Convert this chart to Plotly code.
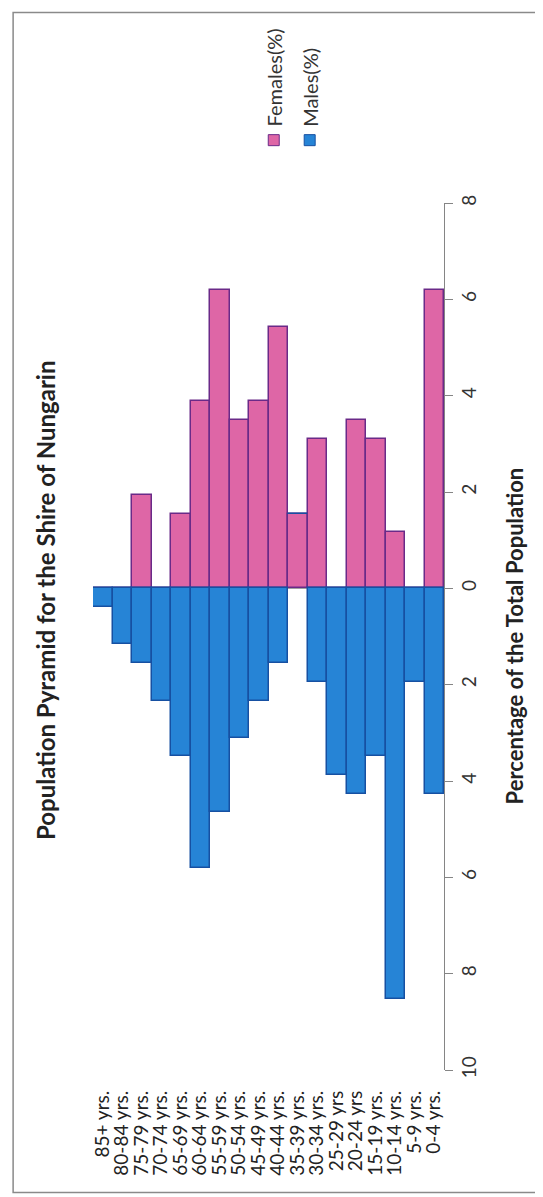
import plotly.graph_objects as go

age_groups = ["85+ yrs.", "80-84 yrs.", "75-79 yrs.", "70-74 yrs.", "65-69 yrs.",
              "60-64 yrs.", "55-59 yrs.", "50-54 yrs.", "45-49 yrs.", "40-44 yrs.",
              "35-39 yrs.", "30-34 yrs.", "25-29 yrs", "20-24 yrs", "15-19 yrs.",
              "10-14 yrs.", "5-9 yrs.", "0-4 yrs."]
females_pct = [0, 0, 1.94, 0, 1.55, 3.88, 6.20, 3.49, 3.88, 5.43,
               1.55, 3.10, 0, 3.49, 3.10, 1.16, 0, 6.20]
males_pct = [0.39, 1.16, 1.55, 2.33, 3.49, 5.81, 4.65, 3.10, 2.33, 1.55,
             0, 1.94, 3.88, 4.26, 3.49, 8.53, 1.94, 4.26]
tick_vals = [-10, -8, -6, -4, -2, 0, 2, 4, 6, 8]
tick_text = ["10", "8", "6", "4", "2", "0", "2", "4", "6", "8"]

W, H = 543, 1197
L, R, T, B = 85, 436.5, 195.3, 1061.7


def px2x(px):
    return (px - L) / (R - L)


def px2y(py):
    return (B - py) / (B - T)


FEM = "#DE66A6"
FEM_LINE = "#6A2A88"
MAL = "#2684D6"
MAL_LINE = "#1650A2"
FONT = "Lato"

fig = go.Figure()
fig.add_trace(go.Bar(x=age_groups, y=females_pct, name="Females(%)",
                     marker=dict(color=FEM, line=dict(color=FEM_LINE, width=1.5)),
                     showlegend=False))
fig.add_trace(go.Bar(x=age_groups, y=[-v for v in males_pct], name="Males(%)",
                     marker=dict(color=MAL, line=dict(color=MAL_LINE, width=1.5)),
                     showlegend=False))

fig.update_layout(
    width=W, height=H,
    margin=dict(l=L, r=W - R, t=T, b=H - B),
    paper_bgcolor="white", plot_bgcolor="white",
    barmode="relative", bargap=0,
    font=dict(family=FONT, color="#222222"),
    xaxis=dict(type="category", range=[-0.5, len(age_groups) - 0.5],
               tickmode="array", tickvals=age_groups, ticktext=age_groups,
               showgrid=False, showline=False, zeroline=False,
               ticks="", tickangle=-90, ticklabelstandoff=16,
               tickfont=dict(size=19, family=FONT, color="#222222")),
    yaxis=dict(range=[-10, 8], side="right", tickvals=tick_vals, ticktext=tick_text,
               showgrid=False, showline=True, linecolor="#858585", linewidth=1.3,
               ticks="outside", ticklen=8, tickcolor="#858585", tickwidth=1.2,
               zeroline=True, zerolinecolor="#A0A0A0", zerolinewidth=2,
               tickangle=-90, ticklabelstandoff=0,
               tickfont=dict(size=19, family=FONT, color="#333333")),
)

annotations = [
    dict(text="<b>Population Pyramid for the Shire of Nungarin</b>", textangle=-90,
         x=px2x(38), y=px2y(592), xref="paper", yref="paper", showarrow=False,
         xanchor="center", yanchor="middle",
         font=dict(size=24, family=FONT, color="#222222")),
    dict(text="<b>Percentage of the Total Population</b>", textangle=-90,
         x=px2x(508), y=px2y(628), xref="paper", yref="paper", showarrow=False,
         xanchor="center", yanchor="middle",
         font=dict(size=22, family=FONT, color="#222222")),
    dict(text="Females(%)", textangle=-90,
         x=px2x(266), y=px2y(121), xref="paper", yref="paper", showarrow=False,
         xanchor="center", yanchor="bottom",
         font=dict(size=20, family=FONT, color="#333333")),
    dict(text="Males(%)", textangle=-90,
         x=px2x(302), y=px2y(121), xref="paper", yref="paper", showarrow=False,
         xanchor="center", yanchor="bottom",
         font=dict(size=20, family=FONT, color="#333333")),
]
fig.update_layout(annotations=annotations)

shapes = [
    dict(type="rect", xref="paper", yref="paper",
         x0=px2x(5), x1=px2x(535), y0=px2y(1184), y1=px2y(5),
         line=dict(color="#8A8A8A", width=1.5), fillcolor="rgba(0,0,0,0)", layer="below"),
    dict(type="rect", xref="paper", yref="paper",
         x0=px2x(260.5), x1=px2x(271.5), y0=px2y(138), y1=px2y(127),
         line=dict(color=FEM_LINE, width=1), fillcolor=FEM),
    dict(type="rect", xref="paper", yref="paper",
         x0=px2x(296.5), x1=px2x(307.5), y0=px2y(138), y1=px2y(127),
         line=dict(color=MAL_LINE, width=1), fillcolor=MAL),
]
fig.update_layout(shapes=shapes)

fig.write_html("out.html")
